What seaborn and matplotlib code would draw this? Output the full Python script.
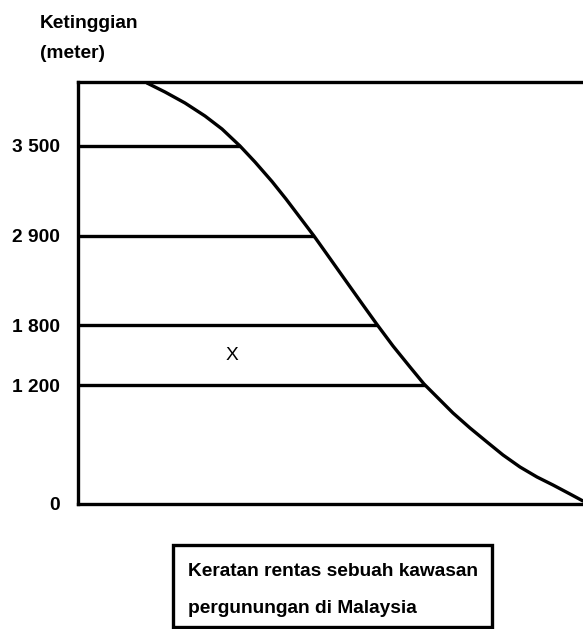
import numpy as np
import pandas as pd
import matplotlib
matplotlib.use('Agg')
import matplotlib.pyplot as plt
import seaborn as sns
from matplotlib.patches import Rectangle

# label ketinggian dan kedudukan (skematik) pada paksi-y
tick_labels = ['0', '1 200', '1 800', '2 900', '3 500']
tick_pos = [0, 119, 179, 268, 358]
# garisan kontur: hujung kanan tempat bertemu cerun
level_pos = [119, 179, 268, 358]
level_end = [347, 299, 236, 162]
# profil cerun gunung
profile_x = [69, 87, 107, 127, 144, 162, 177, 194, 208, 222, 236, 252, 269, 285,
             299, 315, 332, 346, 362, 375, 392, 409, 425, 442, 459, 475, 492, 505]
profile_y = [421, 412, 401, 388, 375, 358, 342, 322.5, 305, 286.5, 268, 245.5,
             221.5, 199, 179.5, 158, 137, 120, 104, 91, 76, 62, 49, 37, 27, 19,
             10, 3]

sns.set_style('white')
plt.rcParams['font.family'] = ['Liberation Sans', 'DejaVu Sans']
plt.rcParams['text.color'] = 'black'
plt.rcParams['ytick.labelcolor'] = 'black'

W, H = 583, 629
fig = plt.figure(figsize=(W / 100, H / 100), dpi=100)
ax = fig.add_axes([78 / W, 125 / H, 505 / W, 422 / H])

df = pd.DataFrame({'x': profile_x, 'y': profile_y})
sns.lineplot(data=df, x='x', y='y', ax=ax, color='black', lw=2.4,
             sort=False, estimator=None)
ax.lines[0].set_clip_on(False)
ax.lines[0].set_solid_joinstyle('round')
ax.hlines(level_pos, 0, level_end, color='black', lw=2.4)

ax.set_xlim(0, 505)
ax.set_ylim(0, 422)
ax.set_xticks([])
ax.set_yticks(tick_pos, tick_labels)
ax.tick_params(axis='y', length=0, pad=13, labelsize=13.8)
for t in ax.get_yticklabels():
    t.set_fontweight('bold')
ax.set_xlabel('')
ax.set_ylabel('')
ax.spines['right'].set_visible(False)
for s in ['left', 'top', 'bottom']:
    ax.spines[s].set_color('black')
    ax.spines[s].set_linewidth(2.4)

ax.text(154, 149, 'X', fontsize=13.8, ha='center', va='center')

# tajuk paksi
fig.text(40 / W, 1 - 28 / H, 'Ketinggian', fontsize=13.8, fontweight='bold',
         va='baseline')
fig.text(40 / W, 1 - 58 / H, '(meter)', fontsize=13.8, fontweight='bold',
         va='baseline')

# kotak keterangan
fig.patches.append(Rectangle((173 / W, 1 - 627 / H), (492 - 173) / W, (627 - 545) / H,
                             transform=fig.transFigure, fill=False,
                             edgecolor='black', lw=2.4))
fig.text(188 / W, 1 - 576 / H, 'Keratan rentas sebuah kawasan', fontsize=13.8,
         fontweight='bold', va='baseline')
fig.text(188 / W, 1 - 613 / H, 'pergunungan di Malaysia', fontsize=13.8,
         fontweight='bold', va='baseline')

fig.savefig('out.png', dpi=100)
